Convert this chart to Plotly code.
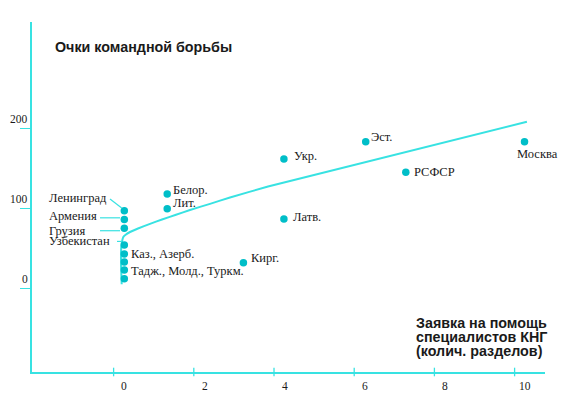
import plotly.graph_objects as go

# ---------------- data ----------------
x_tick_vals = [0, 2, 4, 6, 8, 10]
y_tick_vals = [0, 100, 200]

point_labels = ["Ленинград", "Армения", "Грузия", "Узбекистан",
                "Каз., Азерб.", "", "Тадж., Молд., Туркм.", "",
                "Белор.", "Лит.", "Кирг.", "Укр.", "Латв.",
                "Эст.", "РСФСР", "Москва"]
point_x = [0, 0, 0, 0, 0, 0, 0, 0,
           1.07, 1.07, 2.97, 3.98, 3.98, 6.02, 7.02, 9.98]
point_y = [97, 86, 75, 54, 43, 33, 23, 12,
           118, 99.5, 32, 161.6, 86.6, 183.3, 145, 183.3]

curve_x = [-0.065, -0.082, -0.082, -0.070, -0.025, 0.042, 0.142, 0.342,
           0.641, 0.940, 1.289, 1.638, 2.137, 2.636, 3.584, 10.04]
curve_y = [5, 29.1, 45.4, 54.1, 64.1, 67.3, 70.4, 74.8,
           80.6, 86, 92, 97.9, 105.6, 113.5, 127.3, 208.3]

title_text = "Очки командной борьбы"
x_title_lines = ["Заявка на помощь", "специалистов КНГ", "(колич. разделов)"]

# ---------------- style ----------------
CYAN_LINE = "#38e2e2"
CYAN_DOT = "#00bec8"
TXT = "#1a1a1a"
SERIF = "Liberation Serif, Times New Roman, serif"
SANS = "Liberation Sans, Arial, sans-serif"

# label placement: anchor, pixel shift right, pixel shift up
label_style = {
    "Ленинград": ("left", -76, 12.7),
    "Армения": ("left", -76, 3.7),
    "Грузия": ("left", -76, -2.4),
    "Узбекистан": ("left", -76, 3.7),
    "Каз., Азерб.": ("left", 5.5, 0.4),
    "Тадж., Молд., Туркм.": ("left", 5.5, -0.7),
    "Белор.": ("left", 5, 4),
    "Лит.": ("left", 5, 5.7),
    "Кирг.": ("left", 6.4, 4.4),
    "Укр.": ("left", 9.3, 3.3),
    "Латв.": ("left", 8.3, 1.7),
    "Эст.": ("left", 4.3, 4.4),
    "РСФСР": ("left", 7.6, 0.3),
    "Москва": ("center", 13, -12.6),
}
# leader lines: point index, dx0, dy0, dx1, dy1 (pixels from point, up positive)
leaders = [
    (0, -14.3, 11.7, -2.6, 2.7),
    (1, -24.3, 1.7, -4.3, 1.7),
    (2, -24.3, -2.4, -4.3, -2.4),
    (3, -7.3, 3.7, -3.0, 3.7),
]
X_TICK_SHIFT = -10.7   # tick marks sit left of their labels
LABEL_SIZE = 12.5
TICK_SIZE = 11.5
HEAD_SIZE = 14.3

fig = go.Figure()

fig.add_trace(go.Scatter(
    x=curve_x, y=curve_y, mode="lines",
    line=dict(color=CYAN_LINE, width=2, shape="spline", smoothing=0.3),
    hoverinfo="skip", showlegend=False))

fig.add_trace(go.Scatter(
    x=point_x, y=point_y, mode="markers",
    marker=dict(color=CYAN_DOT, size=7.5),
    text=point_labels, showlegend=False))

annotations = []
for lab, xv, yv in zip(point_labels, point_x, point_y):
    if not lab:
        continue
    anchor, dx, dy = label_style[lab]
    annotations.append(dict(
        x=xv, y=yv, xref="x", yref="y", text=lab, showarrow=False,
        xanchor=anchor, yanchor="middle", xshift=dx, yshift=dy,
        borderpad=0,
        font=dict(family=SERIF, size=LABEL_SIZE, color=TXT)))

shapes = []
for idx, dx0, dy0, dx1, dy1 in leaders:
    shapes.append(dict(
        type="line", xref="x", yref="y",
        xsizemode="pixel", ysizemode="pixel",
        xanchor=point_x[idx], yanchor=point_y[idx],
        x0=dx0, x1=dx1, y0=dy0, y1=dy1,
        line=dict(color=CYAN_LINE, width=1.2)))

# x tick marks (crossing the axis) and labels
for v in x_tick_vals:
    shapes.append(dict(
        type="line", xref="x", yref="paper",
        xsizemode="pixel", ysizemode="pixel",
        xanchor=v, yanchor=0, x0=X_TICK_SHIFT, x1=X_TICK_SHIFT,
        y0=-4.3, y1=4.3,
        line=dict(color=CYAN_LINE, width=1.3)))
    annotations.append(dict(
        x=v, y=0, xref="x", yref="paper", text=str(v),
        showarrow=False, xanchor="center", yanchor="middle", yshift=-14,
        font=dict(family=SERIF, size=TICK_SIZE, color=TXT)))

# y tick labels (sit above their tick marks)
for v in y_tick_vals:
    annotations.append(dict(
        x=0, y=v, xref="paper", yref="y", text=str(v), showarrow=False,
        xanchor="right", yanchor="middle", xshift=-2, yshift=9.5,
        font=dict(family=SERIF, size=TICK_SIZE, color=TXT)))

annotations.append(dict(
    x=0, y=1, xref="paper", yref="paper", text=title_text, showarrow=False,
    xanchor="left", yanchor="middle", xshift=21, yshift=-24.7,
    font=dict(family=SANS, size=HEAD_SIZE, color=TXT, weight="bold")))

for i, line in enumerate(x_title_lines):
    annotations.append(dict(
        x=1, y=0, xref="paper", yref="paper", text=line, showarrow=False,
        xanchor="left", yanchor="middle", xshift=-131, yshift=49.3 - 14 * i,
        font=dict(family=SANS, size=HEAD_SIZE, color=TXT, weight="bold")))

fig.update_layout(
    width=570, height=399,
    margin=dict(l=32, r=25, t=22, b=27, pad=0),
    paper_bgcolor="white", plot_bgcolor="white",
    showlegend=False,
    annotations=annotations, shapes=shapes,
    xaxis=dict(range=[-2.302, 10.491], showgrid=False, zeroline=False,
               showline=True, linecolor=CYAN_LINE, linewidth=1.5,
               showticklabels=False, ticks="", fixedrange=True),
    yaxis=dict(range=[-104.6, 332.9], showgrid=False, zeroline=False,
               showline=True, linecolor=CYAN_LINE, linewidth=1.5,
               tickvals=y_tick_vals, ticks="outside", ticklen=10,
               tickwidth=1.3, tickcolor=CYAN_LINE,
               showticklabels=False, fixedrange=True),
)

fig.write_html("out.html", config={"displayModeBar": False},
               post_script="document.body.style.margin='0';")
